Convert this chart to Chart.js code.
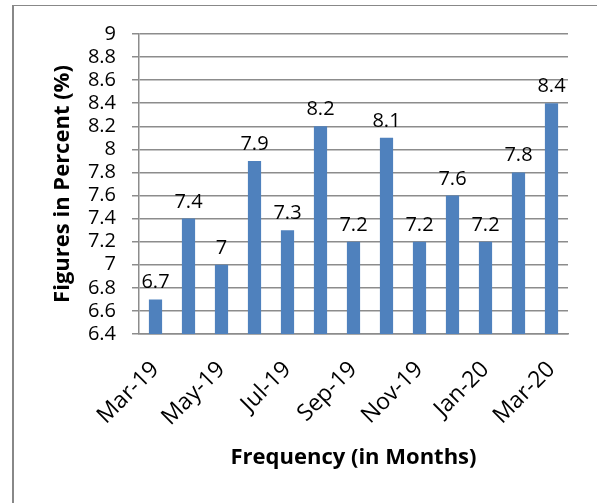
<!DOCTYPE html>
<html>
<head>
<meta charset="utf-8">
<script src="https://cdn.jsdelivr.net/npm/chart.js@4/dist/chart.umd.min.js"></script>
<style>
  html, body { margin: 0; padding: 0; background: #fff; }
  #wrap { position: relative; width: 597px; height: 503px; }
</style>
</head>
<body>
<div id="wrap"><canvas id="c" width="597" height="503"></canvas></div>
<script>
// Monthly figures, Mar-19 .. Mar-20
const months = ['Mar-19', 'Apr-19', 'May-19', 'Jun-19', 'Jul-19', 'Aug-19', 'Sep-19',
                'Oct-19', 'Nov-19', 'Dec-19', 'Jan-20', 'Feb-20', 'Mar-20'];
const figures = [6.7, 7.4, 7, 7.9, 7.3, 8.2, 7.2, 8.1, 7.2, 7.6, 7.2, 7.8, 8.4];
const yTicks = [6.4, 6.6, 6.8, 7, 7.2, 7.4, 7.6, 7.8, 8, 8.2, 8.4, 8.6, 8.8, 9];

const FONT = '"Open Sans", "Liberation Sans", sans-serif';
const GRID = '#8c8c8c';

// Outer frame of the chart object
const framePlugin = {
  id: 'frame',
  beforeDraw(chart) {
    const ctx = chart.ctx;
    ctx.save();
    ctx.fillStyle = '#fff';
    ctx.fillRect(0, 0, chart.width, chart.height);
    ctx.fillStyle = '#888';
    ctx.fillRect(12, 5, 2, chart.height - 5);
    ctx.fillRect(12, 5, chart.width - 12, 1);
    ctx.restore();
  }
};

// Value labels above each bar
const valueLabels = {
  id: 'valueLabels',
  afterDatasetsDraw(chart) {
    const ctx = chart.ctx;
    const meta = chart.getDatasetMeta(0);
    ctx.save();
    ctx.font = '20px ' + FONT;
    ctx.fillStyle = '#000';
    ctx.textAlign = 'center';
    ctx.textBaseline = 'alphabetic';
    meta.data.forEach((bar, i) => {
      ctx.fillText(String(figures[i]), bar.x, bar.y - 11);
    });
    ctx.restore();
  }
};

new Chart(document.getElementById('c'), {
  type: 'bar',
  data: {
    labels: months,
    datasets: [{
      data: figures,
      backgroundColor: '#4f81bd',
      borderWidth: 0,
      barPercentage: 0.4,
      categoryPercentage: 1
    }]
  },
  options: {
    responsive: false,
    animation: false,
    devicePixelRatio: 1,
    layout: { padding: { left: 0, top: 34, right: 29, bottom: 0 } },
    plugins: { legend: { display: false }, tooltip: { enabled: false } },
    scales: {
      x: {
        grid: { display: false, drawTicks: false },
        border: { display: true, color: GRID, width: 1.5 },
        ticks: {
          autoSkip: false,
          minRotation: 45,
          maxRotation: 45,
          padding: 22,
          color: '#000',
          font: { family: FONT, size: 23 },
          callback: (v, i) => (i % 2 === 0 ? months[i] : '')
        },
        title: {
          display: true,
          text: 'Frequency (in Months)',
          color: '#000',
          font: { family: FONT, size: 22, weight: 'bold' },
          padding: { top: 0, bottom: 31.8 }
        },
        afterFit(scale) { scale.height = 169; }
      },
      y: {
        min: yTicks[0],
        max: yTicks[yTicks.length - 1],
        afterBuildTicks(scale) { scale.ticks = yTicks.map(v => ({ value: v })); },
        grid: { color: GRID, lineWidth: 1.5, drawTicks: true, tickLength: 7 },
        border: { display: true, color: GRID, width: 1.5 },
        ticks: {
          autoSkip: false,
          padding: 16,
          color: '#000',
          font: { family: FONT, size: 20 },
          callback: v => String(+(+v).toFixed(1))
        },
        title: {
          display: true,
          text: 'Figures in Percent (%)',
          color: '#000',
          font: { family: FONT, size: 22, weight: 'bold' },
          padding: { top: 49.8, bottom: 0 }
        },
        afterFit(scale) { scale.width = 139; }
      }
    }
  },
  plugins: [framePlugin, valueLabels]
});
</script>
</body>
</html>
